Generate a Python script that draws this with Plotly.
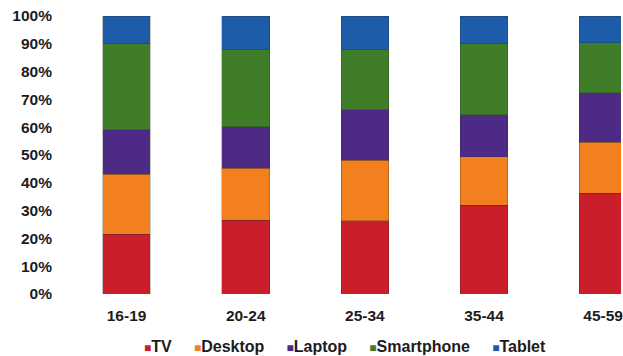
import plotly.graph_objects as go

age_groups = ["16-19", "20-24", "25-34", "35-44", "45-59"]
series_names = ["TV", "Desktop", "Laptop", "Smartphone", "Tablet"]
tv = [21.5, 26.6, 26.3, 32.0, 36.2]
desktop = [21.5, 18.6, 21.9, 17.4, 18.4]
laptop = [16.0, 15.0, 18.0, 15.0, 17.8]
smartphone = [31.0, 27.8, 21.9, 25.8, 18.0]
tablet = [10.0, 12.0, 11.9, 9.8, 9.6]
y_ticks = [0, 10, 20, 30, 40, 50, 60, 70, 80, 90, 100]
y_tick_labels = [f"{v}%" for v in y_ticks]

values = [tv, desktop, laptop, smartphone, tablet]
colors = ["#cc1d2b", "#f2801f", "#4d2a86", "#3f7d28", "#1c5ca8"]
FONT = "Liberation Sans, Arial, sans-serif"
TXT = "#1c1c1c"

fig = go.Figure()
for name, vals, col in zip(series_names, values, colors):
    fig.add_trace(go.Bar(
        name=name, x=age_groups, y=vals,
        marker=dict(color=col, line=dict(width=0.6, color="rgba(40,40,40,0.45)")),
        showlegend=False,
    ))

# legend as a single centered line of real text
parts = []
for name, col in zip(series_names, colors):
    parts.append(f"<span style='color:{col};font-size:12px'>■</span>{name}")
legend_text = "&nbsp;&nbsp;&nbsp;&nbsp;&nbsp;".join(parts)
fig.add_annotation(
    text=legend_text, xref="paper", yref="paper", x=0.501, y=0,
    xanchor="center", yanchor="middle", yshift=-52.5, showarrow=False,
    font=dict(family=FONT, size=16, color=TXT, weight="bold"),
)

fig.update_layout(
    barmode="stack", bargap=0.6,
    width=623, height=356,
    margin=dict(l=67, r=0, t=16, b=62),
    paper_bgcolor="white", plot_bgcolor="white",
    font=dict(family=FONT, size=15, color=TXT, weight="bold"),
    xaxis=dict(range=[-0.5, 4.15], showgrid=False, showline=False, zeroline=False,
               ticks="", ticklabelstandoff=10,
               tickfont=dict(family=FONT, size=15.5, color=TXT, weight="bold")),
    yaxis=dict(range=[0, 100], tickmode="array", tickvals=y_ticks, ticktext=y_tick_labels,
               showgrid=False, showline=False, zeroline=False, ticks="",
               ticklabelstandoff=14,
               tickfont=dict(family=FONT, size=15.5, color=TXT, weight="bold")),
)

fig.write_html("out.html")
